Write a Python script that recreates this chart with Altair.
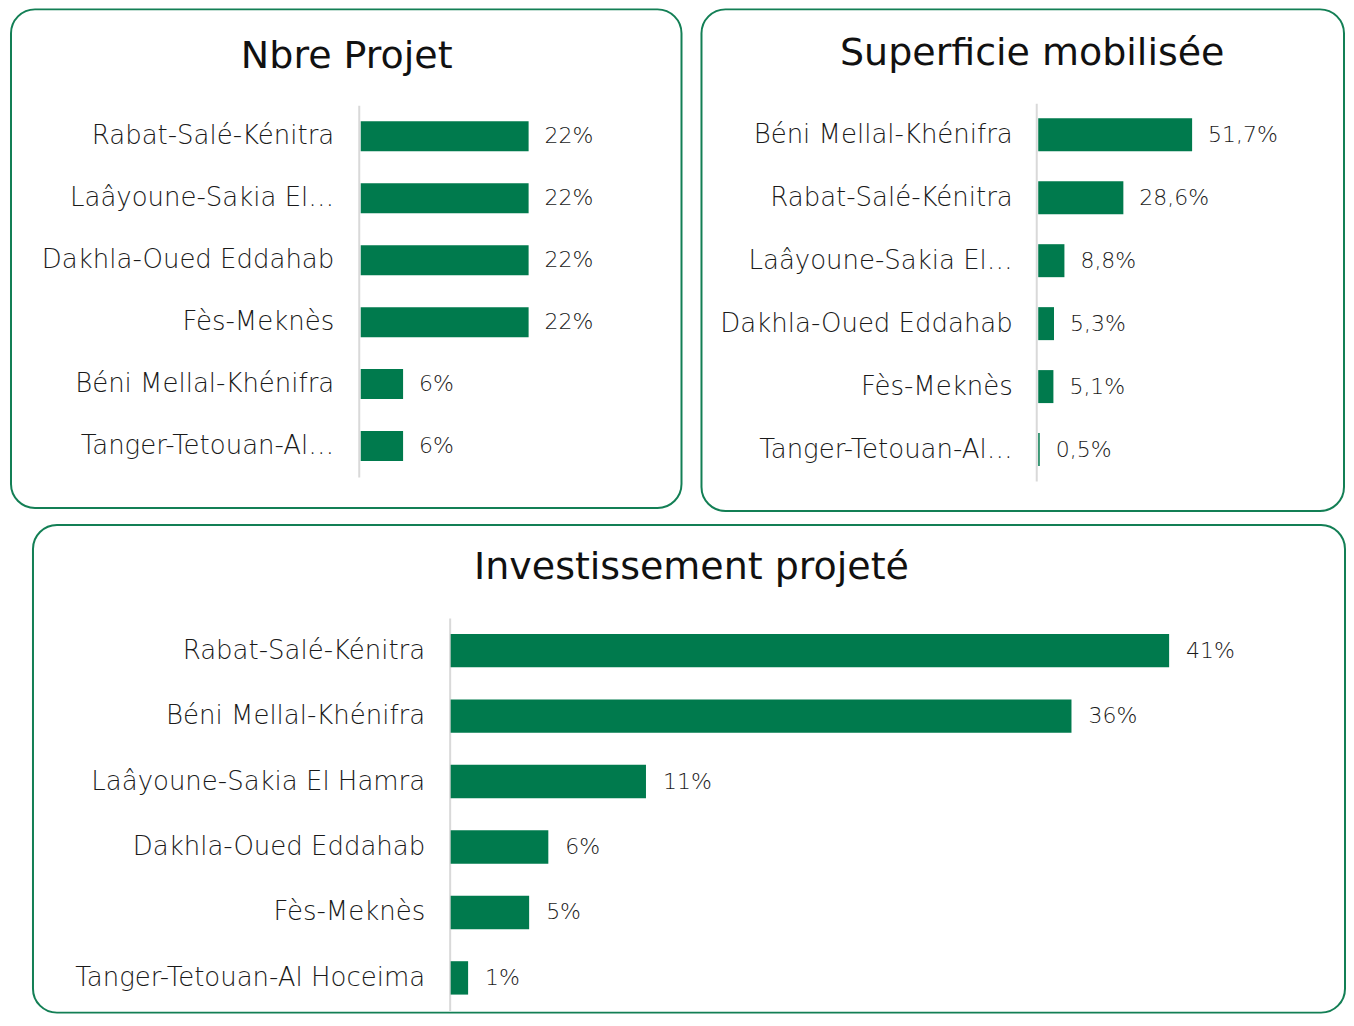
import altair as alt
import pandas as pd

GREEN = "#007A4D"
BORDER = "#137F55"
TEXT = "#1a1a1a"
FONT = "DejaVu Sans"

# Nbre Projet
cats_a = ["Rabat-Salé-Kénitra", "Laâyoune-Sakia El…", "Dakhla-Oued Eddahab",
          "Fès-Meknès", "Béni Mellal-Khénifra", "Tanger-Tetouan-Al…"]
vals_a = [22.2, 22.2, 22.2, 22.2, 5.6, 5.6]
labs_a = ["22%", "22%", "22%", "22%", "6%", "6%"]

# Superficie mobilisée
cats_b = ["Béni Mellal-Khénifra", "Rabat-Salé-Kénitra", "Laâyoune-Sakia El…",
          "Dakhla-Oued Eddahab", "Fès-Meknès", "Tanger-Tetouan-Al…"]
vals_b = [51.7, 28.6, 8.8, 5.3, 5.1, 0.5]
labs_b = ["51,7%", "28,6%", "8,8%", "5,3%", "5,1%", "0,5%"]

# Investissement projeté
cats_c = ["Rabat-Salé-Kénitra", "Béni Mellal-Khénifra", "Laâyoune-Sakia El Hamra",
          "Dakhla-Oued Eddahab", "Fès-Meknès", "Tanger-Tetouan-Al Hoceima"]
vals_c = [41.2, 35.6, 11.2, 5.6, 4.5, 1.0]
labs_c = ["41%", "36%", "11%", "6%", "5%", "1%"]

LABEL_SIZE = 26
VALUE_SIZE = 22
TITLE_SIZE = 38


def panel(cats, vals, labs, title, W, H, yr, xr, axis_x, pinner, lpad, dx, tx, ty):
    df = pd.DataFrame({"cat": cats, "val": vals, "lab": labs})
    yenc = alt.Y("cat:N", sort=cats,
                 scale=alt.Scale(range=yr, paddingInner=pinner, paddingOuter=pinner / 2),
                 axis=alt.Axis(title=None, orient="left", offset=-axis_x, ticks=False, tickSize=0,
                               domainColor="#d9d9d9", domainWidth=2, labelPadding=lpad,
                               labelFont=FONT, labelFontSize=LABEL_SIZE, labelFontWeight=200,
                               labelColor=TEXT, labelLimit=600))
    xenc = alt.X("val:Q", scale=alt.Scale(domain=[0, max(vals)], range=xr, zero=True), axis=None)
    base = alt.Chart(df)
    bars = base.mark_bar(color=GREEN).encode(y=yenc, x=xenc)
    text = base.mark_text(align="left", baseline="middle", dx=dx, font=FONT, fontSize=VALUE_SIZE,
                          fontWeight=200, color=TEXT).encode(y=yenc, x=xenc, text="lab:N")
    ttl = alt.Chart(pd.DataFrame({"t": [title]})).mark_text(
        align="center", baseline="middle", font=FONT, fontSize=TITLE_SIZE, fontWeight=400, color="#111111"
    ).encode(text="t:N", x=alt.value(tx), y=alt.value(ty))
    return alt.layer(bars, text, ttl).properties(width=W, height=H)


a = panel(cats_a, vals_a, labs_a, "Nbre Projet", 671, 499, [96, 468], [350, 518], 348, 0.516, 25, 16, 336, 48)
b = panel(cats_b, vals_b, labs_b, "Superficie mobilisée", 643, 502, [94, 472], [337, 491], 335, 0.476, 24, 16, 331, 45)
c = panel(cats_c, vals_c, labs_c, "Investissement projeté", 1313, 488, [93, 486], [418, 1137], 417, 0.49, 25, 17, 659, 43)

spacer = alt.Chart(pd.DataFrame({"z": [0]})).mark_rect(opacity=0).encode(
    x=alt.value(0), x2=alt.value(1), y=alt.value(0), y2=alt.value(1)
).properties(width=1, height=1, view=alt.ViewBackground(stroke="transparent"))

top = alt.hconcat(a, b, spacing=18)
bottom = alt.hconcat(spacer, c, spacing=19)

chart = alt.vconcat(top, bottom, spacing=12).properties(
    padding={"left": 2, "top": 0, "right": 0, "bottom": 0}, background="white"
).configure_view(stroke=BORDER, strokeWidth=2, cornerRadius=24)

chart.save("out.html", embed_options={"renderer": "svg", "actions": False})
